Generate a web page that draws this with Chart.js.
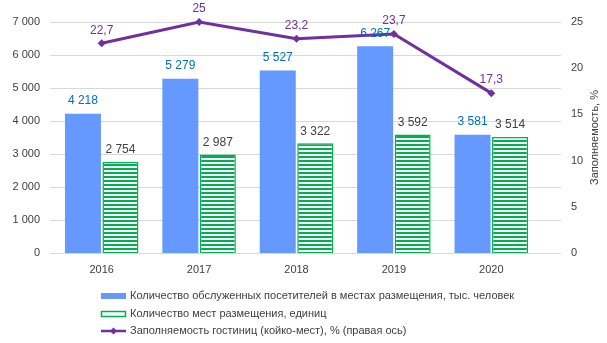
<!DOCTYPE html>
<html>
<head>
<meta charset="utf-8">
<script src="https://cdn.jsdelivr.net/npm/chart.js@4"></script>
<style>
  html, body { margin: 0; padding: 0; background: #fff; }
  #wrap { width: 607px; height: 343px; }
</style>
</head>
<body>
<div id="wrap"><canvas id="chart" width="607" height="343"></canvas></div>
<script>
const years = ['2016', '2017', '2018', '2019', '2020'];
const visitors = [4218, 5279, 5527, 6267, 3581];
const places = [2754, 2987, 3322, 3592, 3514];
const occupancy = [22.7, 25, 23.2, 23.7, 17.3];

const legendNames = [
  'Количество обслуженных посетителей в местах размещения, тыс. человек',
  'Количество мест размещения, единиц',
  'Заполняемость гостиниц (койко-мест), % (правая ось)'
];
const rightTitle = 'Заполняемость, %';

const FONT = '"Liberation Sans", Arial, sans-serif';
const BLUE = '#6699ff';
const GREEN = '#00b050';
const PURPLE = '#7030a0';
const GRID = '#d9d9d9';

// horizontal stripes for the second bar series
function stripes() {
  const c = document.createElement('canvas');
  c.width = 4; c.height = 4;
  const g = c.getContext('2d');
  g.fillStyle = '#fff';
  g.fillRect(0, 0, 4, 4);
  g.fillStyle = GREEN;
  g.fillRect(0, 0, 4, 2);
  return g.createPattern(c, 'repeat');
}

function fmt(v) {
  return String(v).replace(/\B(?=(\d{3})+(?!\d))/g, ' ');
}

// fixed axis width, and no extra room above/below for the tick labels
function fixWidth(w) {
  return s => {
    s.width = w;
    s.paddingTop = 0;
    s.paddingBottom = 0;
  };
}

// gridlines run a bit wider than the category band
const wideGrid = {
  id: 'wideGrid',
  beforeDatasetsDraw(chart) {
    const ctx = chart.ctx, ys = chart.scales.y, area = chart.chartArea;
    ctx.save();
    ctx.strokeStyle = GRID;
    ctx.lineWidth = 1;
    ys.ticks.forEach(t => {
      const py = Math.round(ys.getPixelForValue(t.value)) + 0.5;
      ctx.beginPath();
      ctx.moveTo(area.left - 3, py);
      ctx.lineTo(area.right + 21, py);
      ctx.stroke();
    });
    ctx.restore();
  },
  afterDraw(chart) {
    // right axis title, reading bottom to top
    const ctx = chart.ctx, area = chart.chartArea;
    ctx.save();
    ctx.translate(595, (area.top + area.bottom) / 2);
    ctx.rotate(-Math.PI / 2);
    ctx.font = '11px ' + FONT;
    ctx.fillStyle = '#404040';
    ctx.textAlign = 'center';
    ctx.textBaseline = 'middle';
    ctx.fillText(rightTitle, 0, 0);
    ctx.restore();
  }
};

// value labels above bars and points
const valueLabels = {
  id: 'valueLabels',
  afterDatasetsDraw(chart) {
    const ctx = chart.ctx;
    ctx.save();
    ctx.font = '12px ' + FONT;
    ctx.textAlign = 'center';
    ctx.textBaseline = 'middle';
    const colors = ['#0070c0', '#404040', PURPLE];
    chart.data.datasets.forEach((ds, i) => {
      chart.getDatasetMeta(i).data.forEach((el, j) => {
        const v = ds.data[j];
        const txt = i === 2 ? String(v).replace('.', ',') : fmt(v);
        ctx.fillStyle = colors[i];
        ctx.fillText(txt, el.x, el.y - (i === 1 ? 12 : 13));
      });
    });
    ctx.restore();
  }
};

// single-column legend under the axis
const columnLegend = {
  id: 'columnLegend',
  afterDraw(chart) {
    const ctx = chart.ctx;
    ctx.save();
    ctx.font = '11px ' + FONT;
    ctx.textBaseline = 'middle';
    const x0 = 101, rows = [296, 314, 331];
    ctx.fillStyle = BLUE;
    ctx.fillRect(x0, rows[0] - 3, 25, 6);
    ctx.fillStyle = '#fff';
    ctx.fillRect(x0, rows[1] - 3, 25, 6);
    ctx.strokeStyle = GREEN;
    ctx.lineWidth = 1.5;
    ctx.strokeRect(x0 + 0.5, rows[1] - 2.5, 24, 5);
    ctx.strokeStyle = PURPLE;
    ctx.lineWidth = 2.5;
    ctx.beginPath();
    ctx.moveTo(x0, rows[2]);
    ctx.lineTo(x0 + 25, rows[2]);
    ctx.stroke();
    ctx.fillStyle = PURPLE;
    ctx.beginPath();
    ctx.moveTo(x0 + 12.5, rows[2] - 3.5);
    ctx.lineTo(x0 + 16, rows[2]);
    ctx.lineTo(x0 + 12.5, rows[2] + 3.5);
    ctx.lineTo(x0 + 9, rows[2]);
    ctx.closePath();
    ctx.fill();
    ctx.fillStyle = '#404040';
    legendNames.forEach((name, i) => ctx.fillText(name, x0 + 29, rows[i]));
    ctx.restore();
  }
};

new Chart(document.getElementById('chart'), {
  type: 'bar',
  data: {
    labels: years,
    datasets: [
      {
        label: legendNames[0],
        data: visitors,
        backgroundColor: BLUE,
        yAxisID: 'y',
        order: 2
      },
      {
        label: legendNames[1],
        data: places,
        backgroundColor: stripes(),
        borderColor: GREEN,
        borderWidth: 1.5,
        yAxisID: 'y',
        order: 2
      },
      {
        type: 'line',
        label: legendNames[2],
        data: occupancy,
        borderColor: PURPLE,
        backgroundColor: PURPLE,
        borderWidth: 3,
        pointStyle: 'rectRot',
        pointRadius: 4,
        pointBorderWidth: 0,
        clip: false,
        yAxisID: 'y1',
        order: 1
      }
    ]
  },
  options: {
    responsive: false,
    animation: false,
    categoryPercentage: 0.77,
    barPercentage: 0.96,
    layout: { padding: { top: 22, left: 0, right: 0, bottom: 0 } },
    plugins: {
      legend: { display: false },
      tooltip: { enabled: false }
    },
    scales: {
      x: {
        grid: { display: false },
        border: { color: GRID },
        ticks: { color: '#404040', font: { family: FONT, size: 11 }, padding: 2 },
        afterFit: s => { s.height = 90; }
      },
      y: {
        min: 0, max: 7000,
        ticks: {
          stepSize: 1000,
          color: '#404040',
          font: { family: FONT, size: 11 },
          padding: 13,
          callback: v => fmt(v)
        },
        grid: { display: false, drawTicks: false },
        border: { display: false },
        afterFit: fixWidth(53)
      },
      y1: {
        position: 'right',
        min: 0, max: 25,
        ticks: {
          stepSize: 5,
          color: '#404040',
          font: { family: FONT, size: 11 },
          padding: 31
        },
        grid: { display: false, drawTicks: false },
        border: { display: false },
        afterFit: fixWidth(67)
      }
    }
  },
  plugins: [wideGrid, valueLabels, columnLegend]
});
</script>
</body>
</html>
